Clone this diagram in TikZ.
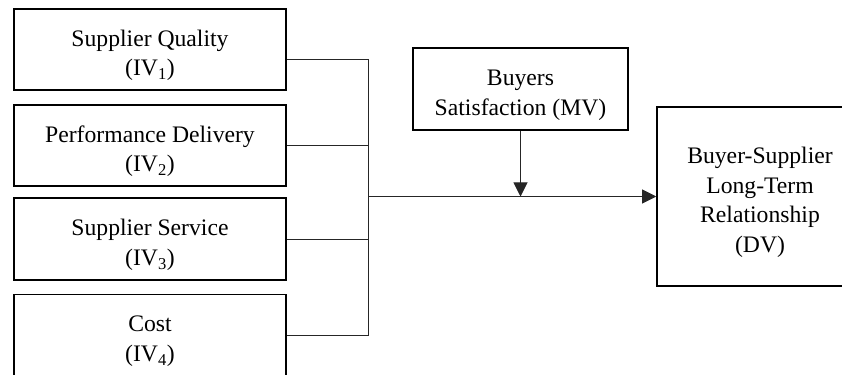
\documentclass[tikz,border=0pt]{standalone}
\usepackage{fontspec}
\setmainfont{Liberation Serif}
\usetikzlibrary{arrows.meta}

% a strut that pushes the first line of a box down a little
\newcommand{\topgap}{\rule{0pt}{24pt}}

\begin{document}
\begin{tikzpicture}[inner sep=0pt,
  box/.style={draw,line width=1.3pt,align=center,font=\fontsize{20.2}{25.5}\selectfont},
  ivbox/.style={box,minimum width=8.16cm,minimum height=2.43cm},
  link/.style={line width=0.8pt,draw=black!85},
  tip/.style={-{Triangle[length=12pt,width=12pt]}}]

\useasboundingbox (0,0) rectangle (25.26,11.22);
\clip (0,0) rectangle (25.26,11.22);

% independent variables
\node[ivbox] (b1) at (4.5,9.735) {\topgap Supplier Quality\\(IV\textsubscript{1})};
\node[ivbox] (b2) at (4.5,6.855) {\topgap Performance Delivery\\(IV\textsubscript{2})};
\node[ivbox,minimum height=2.46cm] (b3) at (4.5,4.05) {\topgap Supplier Service\\(IV\textsubscript{3})};
\node[ivbox] (b4) at (4.5,1.17) {\topgap Cost\\(IV\textsubscript{4})};

% moderator and dependent variable
\node[box,minimum width=6.45cm,minimum height=2.46cm] (mv) at (15.615,8.55) {\topgap Buyers\\Satisfaction (MV)};
\node[box,minimum width=6.18cm,minimum height=5.37cm] (dv) at (22.8,5.325) {\topgap Buyer-Supplier\\Long-Term\\Relationship\\(DV)};

\coordinate (bus) at (11.04,5.325);

\draw[link] (b1.-4.4) -| (bus);
\draw[link] (b2.east) -| (bus);
\draw[link] (b3.east) -| (bus);
\draw[link] (b4.east) -| (bus);

\draw[link,tip] (bus) -- (dv.west);
\draw[link,tip] (mv.south) -- (mv.south |- bus);

\end{tikzpicture}
\end{document}
